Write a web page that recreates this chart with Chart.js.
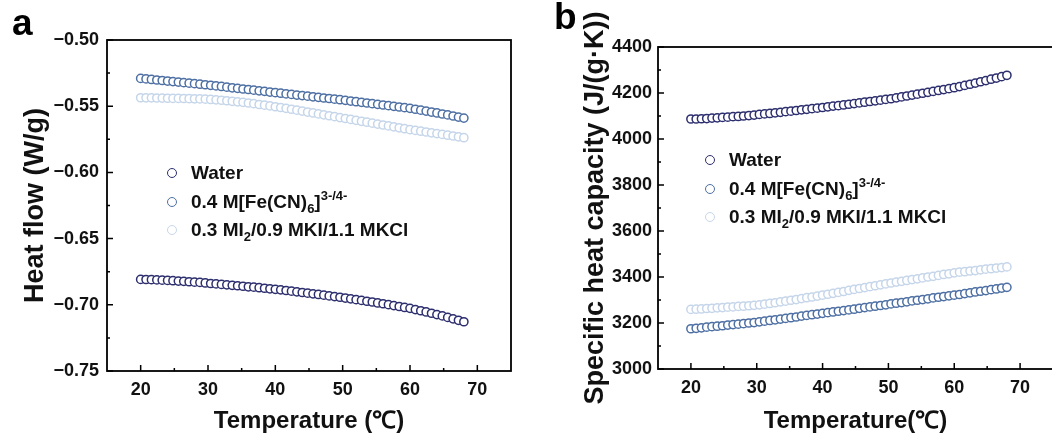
<!DOCTYPE html>
<html>
<head>
<meta charset="utf-8">
<script src="https://cdn.jsdelivr.net/npm/chart.js@4.4.1/dist/chart.umd.min.js"></script>
<style>
  html, body { margin: 0; padding: 0; background: #fff; overflow: hidden; }
  body { width: 1052px; height: 436px; position: relative; font-family: "Liberation Sans", Arial, sans-serif; }
  canvas { position: absolute; top: 0; }
  #cA { left: 0; }
  #cB { left: 525px; }
  .legend { position: absolute; font-weight: bold; font-size: 19px; color: #111; }
  .row { height: 28.5px; display: flex; align-items: center; white-space: nowrap; }
  .dot { box-sizing: border-box; width: 10px; height: 10px; border-radius: 50%; border: 1.7px solid; margin-right: 14px; background: #fff; flex: none; }
  .row sub { font-size: 13px; vertical-align: -5px; line-height: 0; }
  .row sup { font-size: 13px; vertical-align: 8px; line-height: 0; }
  .panel { position: absolute; font-weight: bold; font-size: 37px; line-height: 1; color: #000; }
</style>
</head>
<body>
<canvas id="cA" width="525" height="436"></canvas>
<canvas id="cB" width="535" height="436"></canvas>
<div class="panel" style="left:12px; top:4px;">a</div>
<div class="panel" style="left:554px; top:-2px;">b</div>
<div class="legend" style="left:167px; top:159px;">
  <div class="row"><span class="dot" style="border-color:#2c2e6e"></span><span>Water</span></div>
  <div class="row"><span class="dot" style="border-color:#4d6fa3"></span><span>0.4 M[Fe(CN)<sub>6</sub>]<sup>3-/4-</sup></span></div>
  <div class="row"><span class="dot" style="border-color:#c6d6ea"></span><span>0.3 MI<sub>2</sub>/0.9 MKI/1.1 MKCl</span></div>
</div>
<div class="legend" style="left:705px; top:146px;">
  <div class="row"><span class="dot" style="border-color:#2c2e6e"></span><span>Water</span></div>
  <div class="row"><span class="dot" style="border-color:#4d6fa3"></span><span>0.4 M[Fe(CN)<sub>6</sub>]<sup>3-/4-</sup></span></div>
  <div class="row"><span class="dot" style="border-color:#c6d6ea"></span><span>0.3 MI<sub>2</sub>/0.9 MKI/1.1 MKCl</span></div>
</div>
<script>
// ---------------- data ----------------
const temps = [20,20.8,21.6,22.4,23.2,24,24.8,25.6,26.4,27.2,28,28.8,29.6,30.4,31.2,32,32.8,33.6,34.4,35.2,36,36.8,37.6,38.4,39.2,40,40.8,41.6,42.4,43.2,44,44.8,45.6,46.4,47.2,48,48.8,49.6,50.4,51.2,52,52.8,53.6,54.4,55.2,56,56.8,57.6,58.4,59.2,60,60.8,61.6,62.4,63.2,64,64.8,65.6,66.4,67.2,68];

const hfWater = [-0.6808,-0.6809,-0.6810,-0.6812,-0.6814,-0.6816,-0.6818,-0.6821,-0.6823,-0.6826,-0.6829,-0.6831,-0.6835,-0.6839,-0.6842,-0.6846,-0.6849,-0.6853,-0.6856,-0.6860,-0.6864,-0.6867,-0.6871,-0.6875,-0.6879,-0.6883,-0.6887,-0.6892,-0.6897,-0.6902,-0.6907,-0.6912,-0.6917,-0.6922,-0.6927,-0.6933,-0.6938,-0.6943,-0.6949,-0.6955,-0.6961,-0.6967,-0.6973,-0.6979,-0.6986,-0.6992,-0.6999,-0.7006,-0.7013,-0.7020,-0.7027,-0.7036,-0.7045,-0.7054,-0.7064,-0.7074,-0.7084,-0.7095,-0.7106,-0.7117,-0.7128];
const hfFe = [-0.5290,-0.5294,-0.5298,-0.5302,-0.5306,-0.5310,-0.5314,-0.5318,-0.5322,-0.5326,-0.5330,-0.5334,-0.5338,-0.5342,-0.5347,-0.5351,-0.5356,-0.5361,-0.5365,-0.5370,-0.5374,-0.5379,-0.5384,-0.5388,-0.5393,-0.5398,-0.5402,-0.5407,-0.5411,-0.5416,-0.5420,-0.5424,-0.5429,-0.5433,-0.5438,-0.5442,-0.5447,-0.5451,-0.5456,-0.5461,-0.5466,-0.5471,-0.5476,-0.5481,-0.5486,-0.5491,-0.5496,-0.5501,-0.5506,-0.5511,-0.5516,-0.5523,-0.5530,-0.5537,-0.5544,-0.5551,-0.5559,-0.5566,-0.5574,-0.5582,-0.5590];
const hfI2 = [-0.5436,-0.5437,-0.5437,-0.5438,-0.5439,-0.5440,-0.5441,-0.5441,-0.5442,-0.5443,-0.5444,-0.5445,-0.5447,-0.5449,-0.5452,-0.5455,-0.5459,-0.5463,-0.5467,-0.5471,-0.5476,-0.5481,-0.5487,-0.5492,-0.5498,-0.5504,-0.5510,-0.5516,-0.5523,-0.5530,-0.5537,-0.5544,-0.5551,-0.5558,-0.5565,-0.5572,-0.5579,-0.5586,-0.5593,-0.5600,-0.5607,-0.5614,-0.5621,-0.5628,-0.5635,-0.5642,-0.5649,-0.5656,-0.5663,-0.5670,-0.5677,-0.5683,-0.5689,-0.5695,-0.5701,-0.5707,-0.5713,-0.5719,-0.5725,-0.5731,-0.5738];

const cpWater = [4087,4087,4088,4089,4091,4092,4094,4095,4097,4098,4100,4102,4104,4107,4109,4111,4114,4116,4119,4121,4124,4127,4129,4132,4134,4137,4140,4143,4145,4148,4151,4154,4157,4160,4163,4166,4169,4172,4175,4179,4183,4187,4191,4195,4199,4203,4207,4211,4215,4219,4223,4228,4233,4238,4243,4249,4254,4260,4265,4271,4277];
const cpFe = [3175,3177,3179,3182,3184,3186,3188,3191,3193,3195,3197,3200,3202,3205,3208,3211,3214,3217,3220,3223,3226,3230,3233,3236,3239,3242,3245,3248,3251,3254,3257,3260,3264,3267,3270,3273,3276,3279,3283,3286,3289,3292,3296,3299,3302,3305,3309,3312,3315,3318,3321,3324,3328,3331,3335,3338,3341,3345,3348,3352,3355];
const cpI2 = [3259,3260,3261,3263,3264,3266,3267,3269,3270,3272,3273,3275,3277,3279,3282,3285,3288,3292,3295,3299,3302,3306,3310,3313,3317,3321,3325,3329,3333,3337,3342,3346,3350,3354,3358,3362,3366,3370,3374,3378,3381,3385,3389,3392,3396,3400,3403,3407,3411,3414,3418,3421,3423,3426,3428,3431,3434,3436,3439,3441,3444];

const seriesNames = ["Water", "0.4 M[Fe(CN)6]3-/4-", "0.3 MI2/0.9 MKI/1.1 MKCl"];
const tempTicks = [20, 30, 40, 50, 60, 70];
const tempMinor = [25, 35, 45, 55, 65];
const hfTicks = [-0.75, -0.70, -0.65, -0.60, -0.55, -0.50];
const hfMinor = [-0.725, -0.675, -0.625, -0.575, -0.525];
const cpTicks = [3000, 3200, 3400, 3600, 3800, 4000, 4200, 4400];
const cpMinor = [3100, 3300, 3500, 3700, 3900, 4100, 4300];

// ---------------- styling ----------------
const colors = ['#2c2e6e', '#4d6fa3', '#c6d6ea'];
const FONT = '"Liberation Sans", Arial, sans-serif';

function pts(ys) { return temps.map((t, i) => ({ x: t, y: ys[i] })); }
function ds(label, ys, c) {
  return { label, data: pts(ys), showLine: false, pointStyle: 'circle', pointRadius: 4.1,
           pointBorderWidth: 1.5, borderColor: c, backgroundColor: '#ffffff',
           pointBackgroundColor: '#ffffff', pointBorderColor: c, pointHoverRadius: 4.1 };
}

const frameTicks = {
  id: 'frameTicks',
  afterDatasetsDraw(chart, args, opts) {
    const ctx = chart.ctx, a = chart.chartArea;
    const xs = chart.scales.x, ys = chart.scales.y;
    ctx.save();
    ctx.strokeStyle = '#000';
    ctx.lineWidth = 1.8;
    ctx.strokeRect(a.left, a.top, a.right - a.left, a.bottom - a.top);
    ctx.lineWidth = 1.5;
    ctx.beginPath();
    opts.xMajor.forEach(v => { const p = xs.getPixelForValue(v); ctx.moveTo(p, a.bottom); ctx.lineTo(p, a.bottom - 6); });
    opts.xMinor.forEach(v => { const p = xs.getPixelForValue(v); ctx.moveTo(p, a.bottom); ctx.lineTo(p, a.bottom - 3); });
    opts.yMajor.forEach(v => { const p = ys.getPixelForValue(v); ctx.moveTo(a.left, p); ctx.lineTo(a.left + 6, p); });
    opts.yMinor.forEach(v => { const p = ys.getPixelForValue(v); ctx.moveTo(a.left, p); ctx.lineTo(a.left + 3, p); });
    ctx.stroke();
    ctx.restore();
  }
};

function makeChart(id, cfg) {
  return new Chart(document.getElementById(id), {
    type: 'scatter',
    data: { datasets: [
      ds(seriesNames[2], cfg.s[2], colors[2]),
      ds(seriesNames[1], cfg.s[1], colors[1]),
      ds(seriesNames[0], cfg.s[0], colors[0])
    ] },
    options: {
      responsive: false, animation: false, devicePixelRatio: 1,
      layout: { padding: cfg.pad },
      plugins: { legend: { display: false }, tooltip: { enabled: false },
                 frameTicks: { xMajor: tempTicks, xMinor: tempMinor, yMajor: cfg.yTicks, yMinor: cfg.yMinor } },
      scales: {
        x: {
          type: 'linear', min: 15, max: 75,
          afterBuildTicks: s => { s.ticks = tempTicks.map(v => ({ value: v })); },
          afterFit: s => { s.height = cfg.xH; },
          grid: { display: false, drawTicks: false },
          border: { display: false },
          ticks: { color: '#111', padding: 8, font: { family: FONT, size: 18, weight: 'bold' } },
          title: { display: true, text: cfg.xTitle, color: '#111', padding: { top: 0, bottom: 0 },
                   font: { family: FONT, size: 24, weight: 'bold' } }
        },
        y: {
          type: 'linear', min: cfg.yMin, max: cfg.yMax,
          afterBuildTicks: s => { s.ticks = cfg.yTicks.map(v => ({ value: v })); },
          afterFit: s => { s.width = cfg.yW; },
          grid: { display: false, drawTicks: false },
          border: { display: false },
          ticks: { color: '#111', padding: cfg.yPad, font: { family: FONT, size: 18, weight: 'bold' },
                   callback: cfg.fmt },
          title: { display: true, text: cfg.yTitle, color: '#111', padding: { top: cfg.yTitlePad, bottom: 0 },
                   font: { family: FONT, size: 27, weight: 'bold' } }
        }
      }
    },
    plugins: [frameTicks]
  });
}

makeChart('cA', {
  s: [hfWater, hfFe, hfI2],
  pad: { left: 0, right: 14, top: 40, bottom: 0 },
  xH: 65, yW: 107, yPad: 8, yTitlePad: 19,
  yMin: -0.75, yMax: -0.50, yTicks: hfTicks, yMinor: hfMinor,
  fmt: v => (v < 0 ? '\u2212' : '') + Math.abs(v).toFixed(2),
  xTitle: 'Temperature (\u2103)', yTitle: 'Heat flow (W/g)'
});

makeChart('cB', {
  s: [cpWater, cpFe, cpI2],
  pad: { left: 0, right: 7, top: 47, bottom: 0 },
  xH: 67, yW: 133, yPad: 6, yTitlePad: 54,
  yMin: 3000, yMax: 4400, yTicks: cpTicks, yMinor: cpMinor,
  fmt: v => String(v),
  xTitle: 'Temperature(\u2103)', yTitle: 'Specific heat capacity (J/(g\u00b7K))'
});
</script>
</body>
</html>
